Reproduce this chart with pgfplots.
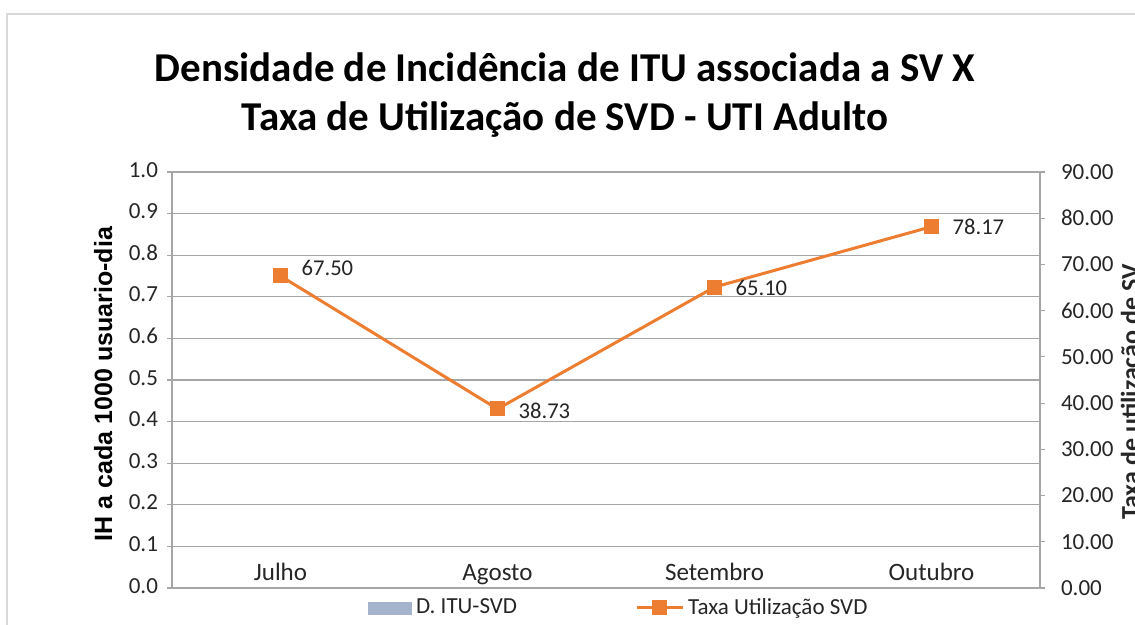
\documentclass[border=0pt]{standalone}
\usepackage{fontspec}
\setmainfont{Carlito}
\newfontfamily\arialf{Liberation Sans}
\usepackage{pgfplots}
\pgfplotsset{compat=1.18}
\definecolor{orangeS}{HTML}{ED7D31}
\definecolor{barS}{HTML}{A5B4CC}
\definecolor{gridc}{HTML}{A6A6A6}
\definecolor{framec}{HTML}{D9D9D9}
\definecolor{txt}{HTML}{262626}
\begin{document}
\begin{tikzpicture}[x=0.5pt,y=0.5pt]
\path[use as bounding box] (0,0) rectangle (1135,625);
\clip (0,0) rectangle (1135,625);
\fill[white] (0,0) rectangle (1135,625);
\draw[framec, line width=0.7pt] (7,-10) -- (7,611) -- (1150,611);
\node[anchor=base, font=\fontsize{20.5}{24}\selectfont\bfseries] at (565,543) {Densidade de Incidência de ITU associada a SV X};
\node[anchor=base, font=\fontsize{20.5}{24}\selectfont\bfseries] at (565,494) {Taxa de Utilização de SVD - UTI Adulto};
\node[anchor=base, rotate=90, font=\arialf\fontsize{12.5}{15}\selectfont\bfseries] at (112,241) {IH a cada 1000 usuario-dia};
\node[anchor=base, rotate=90, font=\fontsize{13}{15}\selectfont\bfseries, text=txt] at (1139,233) {Taxa de utilização de SV};

\begin{axis}[
  at={(86pt,18.5pt)}, anchor=south west,
  width=434pt, height=208pt, scale only axis,
  xmin=-0.5, xmax=3.5, ymin=0, ymax=1,
  xtick={0,1,2,3}, xticklabels={Julho,Agosto,Setembro,Outubro},
  x tick style={draw=none},
  xticklabel style={anchor=base, yshift=6pt, font=\fontsize{12.5}{14}\selectfont, text=txt},
  typeset ticklabels with strut,
  ytick={0,0.1,0.2,0.3,0.4,0.5,0.6,0.7,0.8,0.9,1.0},
  yticklabel style={font=\fontsize{11.5}{13}\selectfont, text=txt, /pgf/number format/.cd, fixed, fixed zerofill, precision=1, assume math mode=true},
  ymajorgrids, grid style={gridc, line width=0.6pt},
  axis line style={gridc, line width=0.6pt},
  y tick style={gridc, line width=0.6pt},
  major tick length=2.5pt,
  tick align=outside,
  ytick pos=left,
  yticklabel shift=1pt,
]
\addplot[ybar, bar width=20pt, fill=barS, draw=none, forget plot] coordinates {(0,0) (1,0) (2,0) (3,0)};
\end{axis}

\begin{axis}[
  at={(86pt,18.5pt)}, anchor=south west,
  width=434pt, height=208pt, scale only axis,
  xmin=-0.5, xmax=3.5, ymin=0, ymax=90,
  axis x line=none,
  axis y line*=right,
  ytick={0,10,20,30,40,50,60,70,80,90},
  yticklabel style={font=\fontsize{11.5}{13}\selectfont, text=txt, /pgf/number format/.cd, fixed, fixed zerofill, precision=2, assume math mode=true},
  axis line style={gridc, line width=0.6pt},
  y tick style={gridc, line width=0.6pt},
  major tick length=2.5pt,
  tick align=outside,
  yticklabel shift=4.5pt,
  legend style={at={(0.516,-0.048)}, anchor=center, draw=none, fill=none,
    font=\fontsize{11.5}{13}\selectfont, text=txt, legend columns=2,
    /tikz/every even column/.append style={column sep=57pt},
    inner sep=0pt, row sep=0pt},
]
\addlegendimage{legend image code/.code={\fill[barS] (0pt,-3pt) rectangle (21.5pt,3pt);}}
\addlegendentry{D. ITU-SVD}
\addplot[orangeS, line width=1.5pt, mark=square*, mark size=3pt,
  mark options={solid},
  legend image code/.code={\draw[orangeS, line width=1.5pt] (0pt,0pt) -- (23pt,0pt); \fill[orangeS] (8.5pt,-3pt) rectangle (14.5pt,3pt);},
  visualization depends on={\thisrow{dy}\as\dy},
  nodes near coords={\pgfmathprintnumber[fixed,fixed zerofill,precision=2,assume math mode=true]{\pgfplotspointmeta}},
  point meta=y,
  every node near coord/.append style={anchor=west, xshift=6.5pt, yshift=\dy pt, text=txt, font=\fontsize{11.3}{13}\selectfont},
] table[x=x,y=y] {
x y dy
0 67.50 4
1 38.73 -1
2 65.10 -0.5
3 78.17 0
};
\addlegendentry{Taxa Utilização SVD}
\end{axis}
\end{tikzpicture}
\end{document}
